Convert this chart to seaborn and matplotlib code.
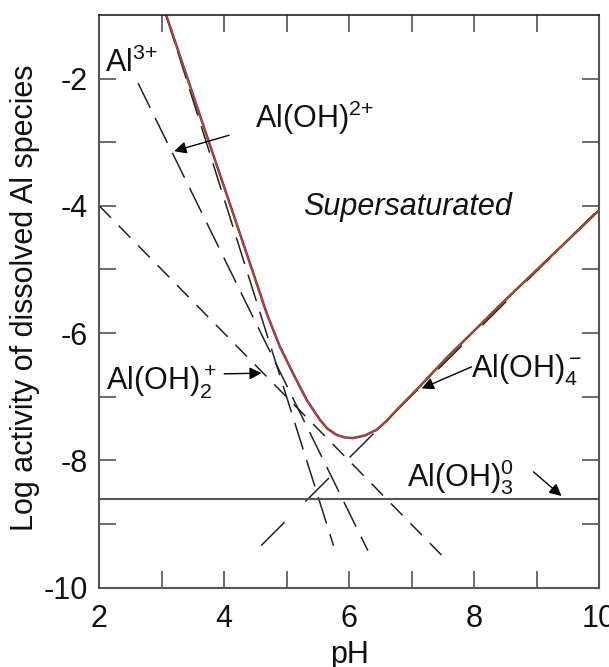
import matplotlib
matplotlib.use('Agg')
import matplotlib.pyplot as plt
import seaborn as sns

# total dissolved Al (solid red curve)
ph_total = [3.07, 3.77, 4.16, 4.50, 4.68, 4.89, 5.10, 5.21, 5.32, 5.53, 5.65, 5.80,
            5.93, 6.06, 6.25, 6.44, 6.60, 6.76, 6.92, 7.08, 7.56, 8.50, 10.0]
log_total = [-1.00, -3.04, -4.17, -5.16, -5.69, -6.21, -6.63, -6.84, -7.05, -7.36, -7.50, -7.60,
             -7.64, -7.65, -7.61, -7.52, -7.38, -7.21, -7.05, -6.89, -6.39, -5.48, -4.07]

# individual species (dashed lines), end points
ph_al3 = [3.07, 5.75]
log_al3 = [-1.00, -9.34]
ph_aloh = [2.62, 6.30]
log_aloh = [-2.07, -9.42]
ph_aloh2 = [2.00, 7.50]
log_aloh2 = [-4.00, -9.51]
ph_aloh3 = [2.00, 10.0]
log_aloh3 = [-8.61, -8.61]
ph_aloh4 = [4.59, 10.0]
log_aloh4 = [-9.34, -4.05]

sns.set_theme(style='ticks')
plt.rcParams['font.family'] = ['Liberation Sans', 'DejaVu Sans']
plt.rcParams['mathtext.fontset'] = 'custom'
plt.rcParams['mathtext.rm'] = 'Liberation Sans'
plt.rcParams['mathtext.it'] = 'Liberation Sans:italic'
plt.rcParams['axes.unicode_minus'] = False
plt.rcParams['lines.scale_dashes'] = False

fig = plt.figure(figsize=(6.09, 6.67), dpi=100)
ax = fig.add_axes([0.163, 0.119, 0.8206, 0.8586])

dash_col = '#222222'
sns.lineplot(x=ph_aloh2, y=log_aloh2, ax=ax, color=dash_col, lw=1.1, linestyle=(0, (12, 8)))
sns.lineplot(x=ph_aloh, y=log_aloh, ax=ax, color=dash_col, lw=1.1, linestyle=(0, (20, 8)))
sns.lineplot(x=ph_al3, y=log_al3, ax=ax, color=dash_col, lw=1.1, linestyle=(0, (20, 8)))
sns.lineplot(x=ph_aloh4, y=log_aloh4, ax=ax, color=dash_col, lw=1.1, linestyle=(0, (24, 21)))
sns.lineplot(x=ph_aloh3, y=log_aloh3, ax=ax, color='#555555', lw=1.5)
sns.lineplot(x=ph_total, y=log_total, ax=ax, color='#444444', lw=1.8)
sns.lineplot(x=ph_total, y=log_total, ax=ax, color='#d83a3a', lw=0.9)

ax.set_xlim(2, 10)
ax.set_ylim(-10, -1)
ax.set_xticks([2, 4, 6, 8, 10])
ax.set_xticks([3, 5, 7, 9], minor=True)
ax.set_yticks([-10, -8, -6, -4, -2])
ax.set_yticks([-9, -7, -5, -3], minor=True)
ax.tick_params(which='both', direction='in', length=12, width=1.1, color='#444444',
               top=True, right=True, labelsize=22, labelcolor='#111111')
ax.tick_params(axis='x', pad=12)
ax.tick_params(axis='y', pad=8)
for side in ['left', 'right', 'bottom']:
    ax.spines[side].set_color('#555555')
    ax.spines[side].set_linewidth(1.5)
ax.spines['top'].set_color('#222222')
ax.spines['top'].set_linewidth(1.2)

ax.set_xlabel('pH', fontsize=22, color='#111111')
ax.set_ylabel('Log activity of dissolved Al species', fontsize=22, color='#111111')
ax.xaxis.set_label_coords(0.5, -0.092)
ax.yaxis.set_label_coords(-0.118, 0.507)

lab = dict(fontsize=22, color='#111111', ha='left', va='baseline')
ax.text(2.09, -1.89, r'Al$^{3{+}}$', **lab)
ax.text(4.49, -2.77, r'Al(OH)$^{2{+}}$', **lab)
ax.text(2.10, -6.89, r'Al(OH)$_2^+$', **lab)
ax.text(7.95, -6.70, r'Al(OH)$_4^-$', **lab)
ax.text(6.93, -8.41, r'Al(OH)$_3^0$', **lab)
ax.text(5.26, -4.14, 'Supersaturated', style='italic', **lab)

arrow = dict(arrowstyle='-|>', color='black', lw=1.0, mutation_scale=18, shrinkA=0, shrinkB=0)
ax.annotate('', xy=(3.20, -3.14), xytext=(4.08, -2.89), arrowprops=arrow)
ax.annotate('', xy=(4.60, -6.63), xytext=(4.00, -6.64), arrowprops=arrow)
ax.annotate('', xy=(7.16, -6.87), xytext=(7.96, -6.53), arrowprops=arrow)
ax.annotate('', xy=(9.40, -8.56), xytext=(8.95, -8.18), arrowprops=arrow)

fig.savefig('out.png', dpi=100)
